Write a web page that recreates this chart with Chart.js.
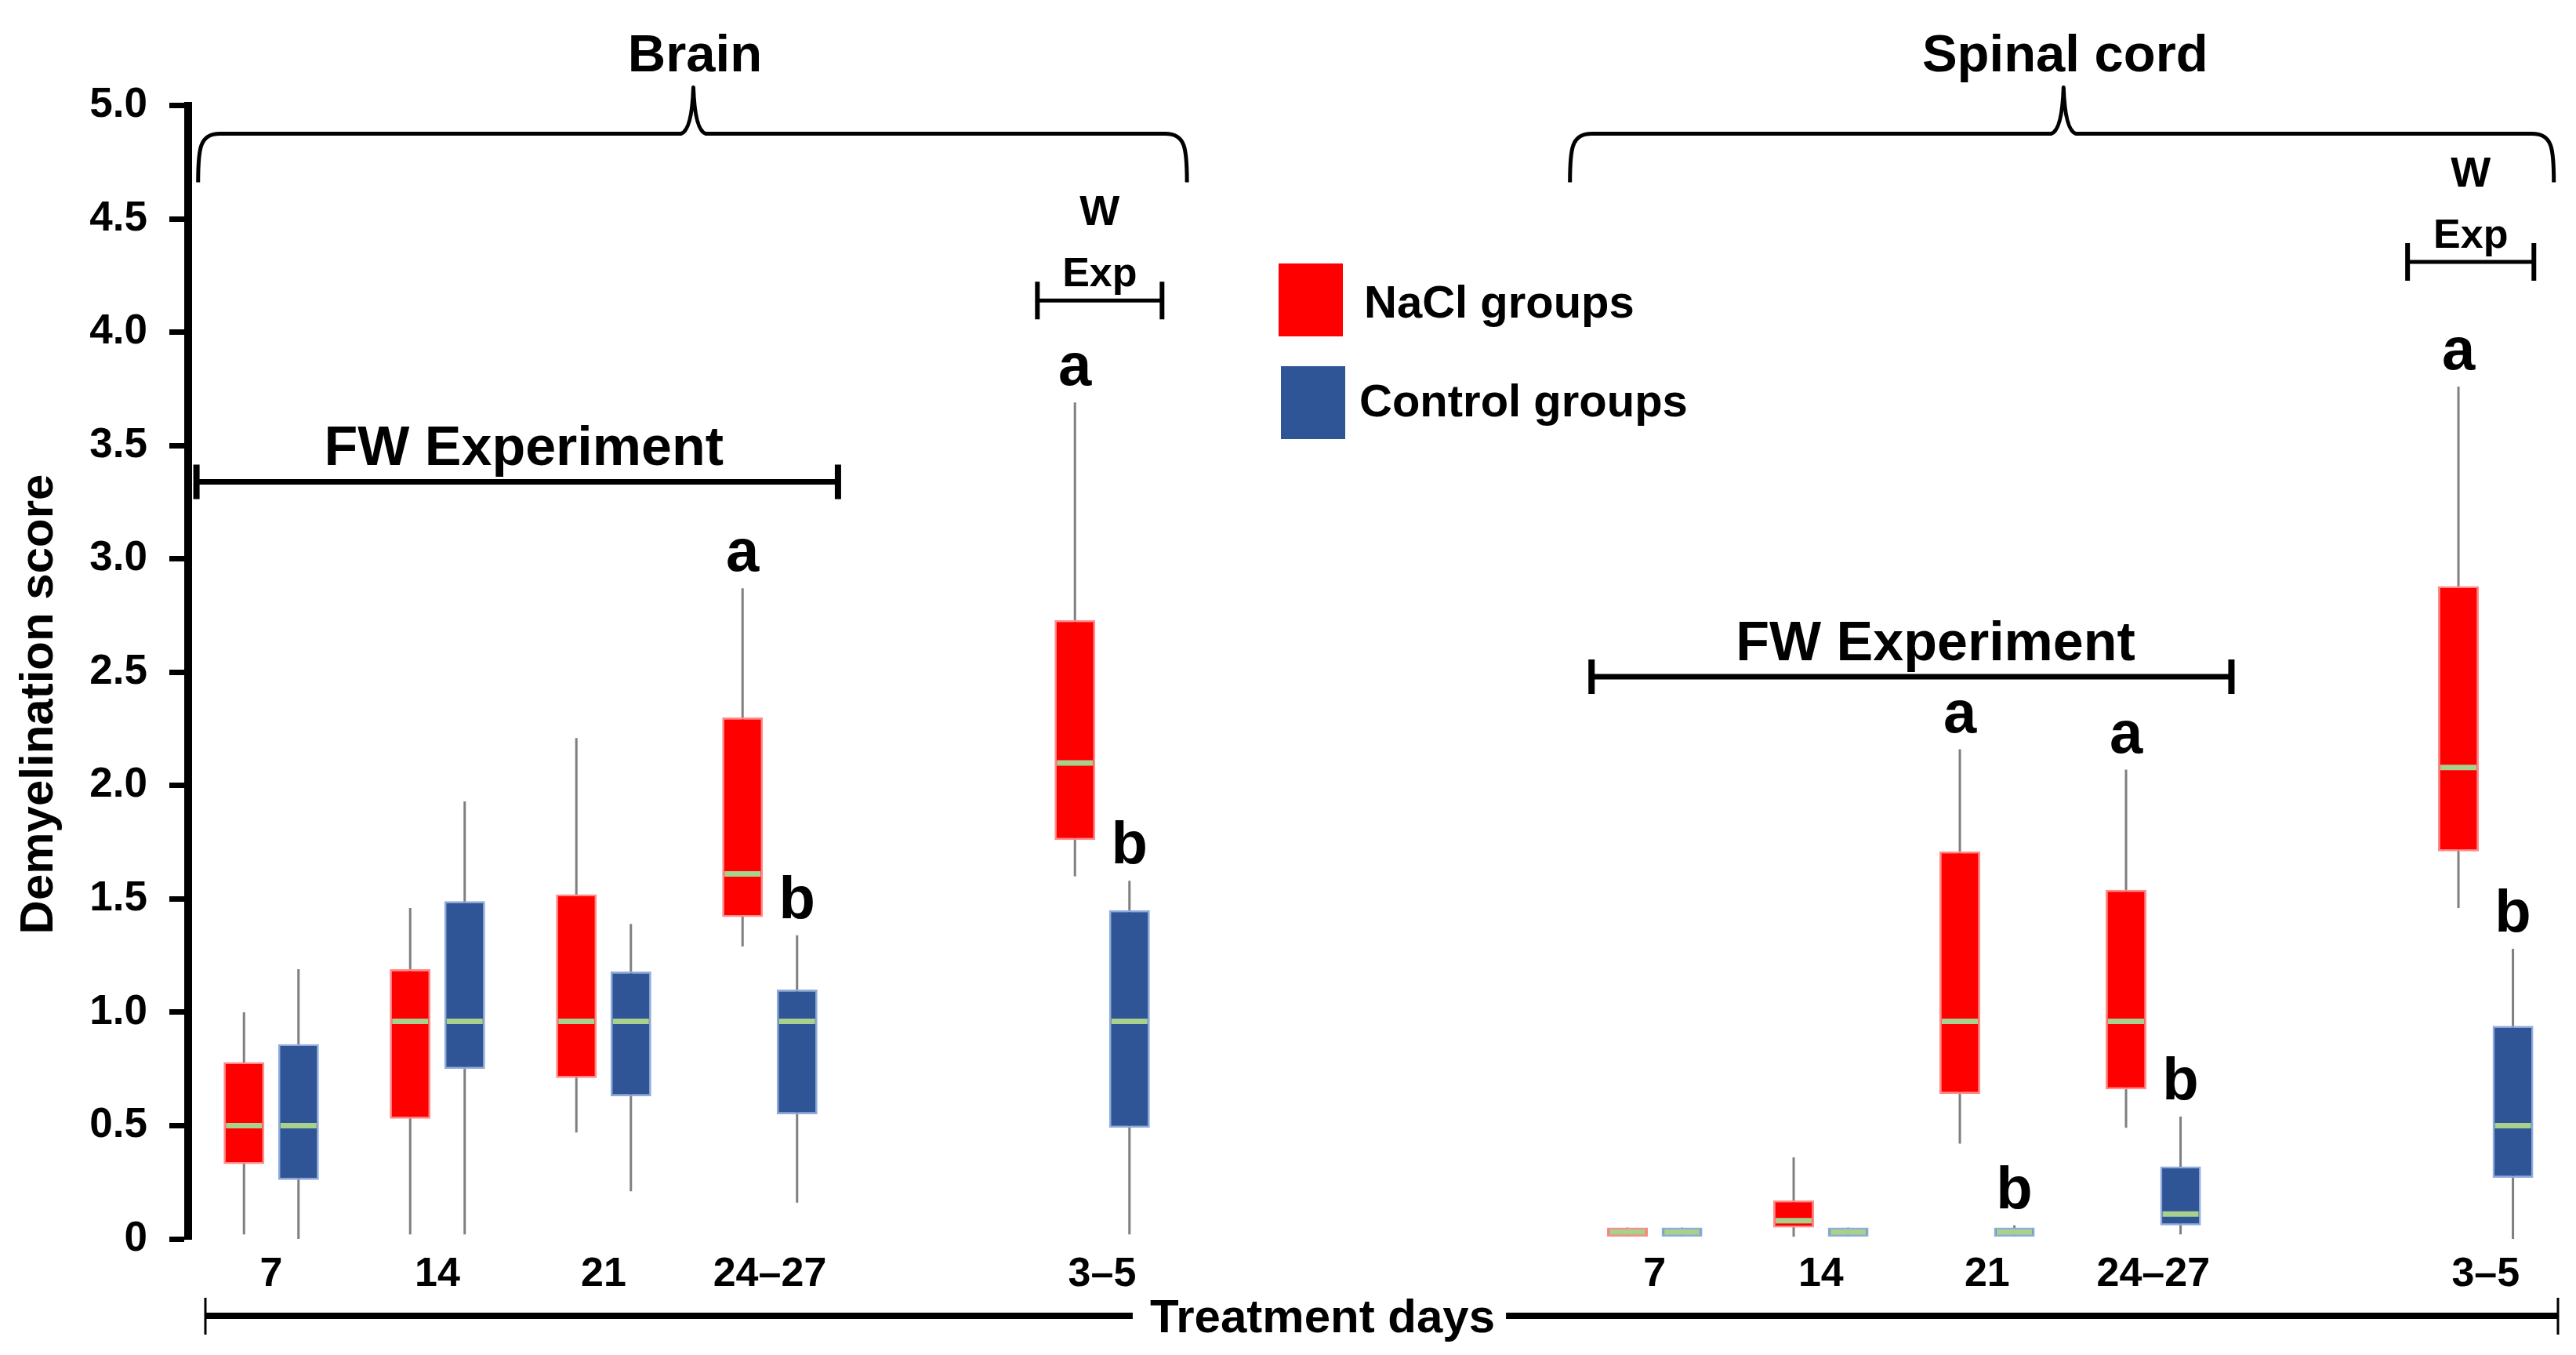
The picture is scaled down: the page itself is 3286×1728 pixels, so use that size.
<!DOCTYPE html>
<html>
<head>
<meta charset="utf-8">
<script src="https://cdn.jsdelivr.net/npm/chart.js@4.4.1/dist/chart.umd.min.js"></script>
<style>
  html, body { margin: 0; padding: 0; background: #ffffff; }
  #wrap { position: relative; width: 3286px; height: 1728px; }
  #wrap canvas { position: absolute; left: 0; top: 0; }
</style>
</head>
<body>
<div id="wrap">
  <canvas id="brainChart" width="3286" height="1728"></canvas>
  <canvas id="spinalChart" width="3286" height="1728"></canvas>
</div>
<script>
// ---------------- DATA ----------------
const dayLabels = ['7', '14', '21', '24–27', '', '3–5'];   // '' = spacer slot
const seriesNames = ['NaCl groups', 'Control groups'];
const yTickLabels = ['0', '0.5', '1.0', '1.5', '2.0', '2.5', '3.0', '3.5', '4.0', '4.5', '5.0'];
const yAxisTitle = 'Demyelination score';
const xAxisTitle = 'Treatment days';
const panelTitles = ['Brain', 'Spinal cord'];
const fwLabel = 'FW Experiment';
const wLabel = ['W', 'Exp'];

// Brain – NaCl groups (box plot statistics)
const brainNaClMin    = [0.02, 0.02, 0.47, 1.29, null, 1.60];
const brainNaClQ1     = [0.33, 0.53, 0.71, 1.42, null, 1.76];
const brainNaClMedian = [0.50, 0.96, 0.96, 1.61, null, 2.10];
const brainNaClQ3     = [0.78, 1.19, 1.52, 2.30, null, 2.73];
const brainNaClMax    = [1.00, 1.46, 2.21, 2.87, null, 3.69];
const brainNaClSig    = ['', '', '', 'a', '', 'a'];

// Brain – Control groups
const brainCtrlMin    = [0.00, 0.02, 0.21, 0.16, null, 0.02];
const brainCtrlQ1     = [0.26, 0.75, 0.63, 0.55, null, 0.49];
const brainCtrlMedian = [0.50, 0.96, 0.96, 0.96, null, 0.96];
const brainCtrlQ3     = [0.86, 1.49, 1.18, 1.10, null, 1.45];
const brainCtrlMax    = [1.19, 1.93, 1.39, 1.34, null, 1.58];
const brainCtrlSig    = ['', '', '', 'b', '', 'b'];

// Spinal cord – NaCl groups
const spinalNaClMin    = [0.01, 0.01, 0.42, 0.49, null, 1.46];
const spinalNaClQ1     = [0.01, 0.05, 0.64, 0.66, null, 1.71];
const spinalNaClMedian = [0.03, 0.08, 0.96, 0.96, null, 2.08];
const spinalNaClQ3     = [0.05, 0.17, 1.71, 1.54, null, 2.88];
const spinalNaClMax    = [0.05, 0.36, 2.16, 2.07, null, 3.76];
const spinalNaClSig    = ['', '', 'a', 'a', '', 'a'];

// Spinal cord – Control groups
const spinalCtrlMin    = [0.01, 0.01, 0.01, 0.02, null, 0.00];
const spinalCtrlQ1     = [0.01, 0.01, 0.01, 0.06, null, 0.27];
const spinalCtrlMedian = [0.03, 0.03, 0.03, 0.11, null, 0.50];
const spinalCtrlQ3     = [0.05, 0.05, 0.05, 0.32, null, 0.94];
const spinalCtrlMax    = [0.05, 0.05, 0.06, 0.54, null, 1.28];
const spinalCtrlSig    = ['', '', 'b', 'b', '', 'b'];

// ---------------- STYLE ----------------
const FONT = '"Liberation Sans", Arial, Helvetica, sans-serif';
const RED = '#ff0000', RED_EDGE = '#ff8a8a';
const BLUE = '#2f5597', BLUE_EDGE = '#8faadc';
const MEDIAN = '#a9d18e';
const WHISKER = '#7f7f7f';
Chart.defaults.font.family = FONT;
Chart.defaults.color = '#000';

function series(label, color, edge, q1, q3, min, med, max, sig) {
  return {
    label: label,
    data: q1.map((q, i) => (q == null ? null : [q, q3[i]])),
    backgroundColor: color,
    borderColor: edge,
    borderWidth: 2.5,
    borderSkipped: false,
    categoryPercentage: 0.656,
    barPercentage: 0.748,
    stats: { min: min, med: med, max: max, sig: sig }
  };
}

const boxPlugin = {
  id: 'boxStats',
  beforeDatasetsDraw(chart) {
    const ctx = chart.ctx, y = chart.scales.y;
    chart.data.datasets.forEach((ds, di) => {
      const meta = chart.getDatasetMeta(di);
      meta.data.forEach((el, i) => {
        if (ds.stats.min[i] == null) return;
        ctx.save();
        ctx.strokeStyle = WHISKER;
        ctx.lineWidth = 3;
        ctx.beginPath();
        ctx.moveTo(el.x, y.getPixelForValue(ds.stats.min[i]));
        ctx.lineTo(el.x, y.getPixelForValue(ds.stats.max[i]));
        ctx.stroke();
        ctx.restore();
      });
    });
  },
  afterDatasetsDraw(chart) {
    const ctx = chart.ctx, y = chart.scales.y;
    chart.data.datasets.forEach((ds, di) => {
      const meta = chart.getDatasetMeta(di);
      meta.data.forEach((el, i) => {
        if (ds.stats.med[i] == null) return;
        const w = el.width;
        const ym = y.getPixelForValue(ds.stats.med[i]);
        ctx.save();
        ctx.strokeStyle = MEDIAN;
        ctx.lineWidth = 7;
        ctx.beginPath();
        ctx.moveTo(el.x - w / 2 + 3, ym);
        ctx.lineTo(el.x + w / 2 - 3, ym);
        ctx.stroke();
        const s = ds.stats.sig[i];
        if (s) {
          ctx.fillStyle = '#000';
          ctx.font = 'bold 76px ' + FONT;
          ctx.textAlign = 'center';
          ctx.textBaseline = 'alphabetic';
          ctx.fillText(s, el.x, y.getPixelForValue(ds.stats.max[i]) - 22);
        }
        ctx.restore();
      });
    });
  }
};

function drawBrace(ctx, xl, xr, xm, top) {
  const yh = top + 36, ye = top + 98, yp = top - 23;
  ctx.save();
  ctx.strokeStyle = '#000';
  ctx.lineWidth = 5;
  ctx.lineJoin = 'round';
  ctx.beginPath();
  ctx.moveTo(xl, ye);
  ctx.bezierCurveTo(xl, yh + 18, xl + 2, yh, xl + 28, yh);
  ctx.lineTo(xm - 16, yh);
  ctx.quadraticCurveTo(xm - 2, yh - 4, xm, yp);
  ctx.quadraticCurveTo(xm + 2, yh - 4, xm + 16, yh);
  ctx.lineTo(xr - 28, yh);
  ctx.bezierCurveTo(xr - 2, yh, xr, yh + 18, xr, ye);
  ctx.stroke();
  ctx.restore();
}

function drawBracket(ctx, xl, xr, yv, lw, th, tw) {
  ctx.save();
  ctx.strokeStyle = '#000';
  ctx.lineWidth = lw;
  ctx.beginPath();
  ctx.moveTo(xl, yv);
  ctx.lineTo(xr, yv);
  ctx.stroke();
  ctx.lineWidth = tw;
  ctx.beginPath();
  ctx.moveTo(xl, yv - th); ctx.lineTo(xl, yv + th);
  ctx.moveTo(xr, yv - th); ctx.lineTo(xr, yv + th);
  ctx.stroke();
  ctx.restore();
}

function text(ctx, str, x, y, size, align, baseline) {
  ctx.save();
  ctx.fillStyle = '#000';
  ctx.font = 'bold ' + size + 'px ' + FONT;
  ctx.textAlign = align || 'center';
  ctx.textBaseline = baseline || 'alphabetic';
  ctx.fillText(str, x, y);
  ctx.restore();
}

const annotPlugin = {
  id: 'annot',
  afterDraw(chart, args, o) {
    const ctx = chart.ctx;
    const x = chart.scales.x, y = chart.scales.y;
    const w = x.width / chart.data.labels.length;
    const px = u => x.left + (u + 0.5) * w;
    const top = chart.chartArea.top;

    // Brace and panel title
    drawBrace(ctx, px(o.braceL), px(o.braceR), px(o.braceM), top);
    text(ctx, o.title, px(o.braceM) + 2, top - 44, 67);

    // FW Experiment bracket
    const fy = y.getPixelForValue(o.fwV);
    drawBracket(ctx, px(o.fwL), px(o.fwR), fy, 7, 22, 8);
    text(ctx, fwLabel, px(o.fwT), fy - 21, 70);

    // W Exp bracket
    const wy = y.getPixelForValue(o.wV);
    drawBracket(ctx, px(o.wL), px(o.wR), wy, 5, 24, 6);
    const wc = px((o.wL + o.wR) / 2);
    text(ctx, wLabel[0], wc, wy - 96, 54);
    text(ctx, wLabel[1], wc, wy - 18, 52);

    if (o.yTitle) {
      ctx.save();
      ctx.translate(50, 898);
      ctx.rotate(-Math.PI / 2);
      text(ctx, yAxisTitle, 0, 0, 60, 'center', 'middle');
      ctx.restore();
    }

    if (o.overlay) {
      // Legend
      ctx.save();
      ctx.fillStyle = RED;
      ctx.fillRect(1631, 336, 82, 93);
      ctx.fillStyle = BLUE;
      ctx.fillRect(1634, 467, 82, 93);
      ctx.restore();
      text(ctx, seriesNames[0], 1740, 405, 58, 'left');
      text(ctx, seriesNames[1], 1734, 531, 58, 'left');

      // Treatment days line
      const ly = 1678, lx0 = 262, lx1 = 3263, cx = 1687;
      ctx.save();
      ctx.font = 'bold 60px ' + FONT;
      const tw = ctx.measureText(xAxisTitle).width;
      ctx.restore();
      text(ctx, xAxisTitle, cx, ly + 21, 60);
      ctx.save();
      ctx.strokeStyle = '#000';
      ctx.lineWidth = 8;
      ctx.beginPath();
      ctx.moveTo(lx0, ly); ctx.lineTo(cx - tw / 2 - 22, ly);
      ctx.moveTo(cx + tw / 2 + 14, ly); ctx.lineTo(lx1, ly);
      ctx.stroke();
      ctx.lineWidth = 3;
      ctx.beginPath();
      ctx.moveTo(lx0, ly - 23); ctx.lineTo(lx0, ly + 24);
      ctx.moveTo(lx1, ly - 23); ctx.lineTo(lx1, ly + 24);
      ctx.stroke();
      ctx.restore();
    }
  }
};

function xScale() {
  return {
    afterFit: s => { s.height = 148; },
    grid: { display: false },
    border: { display: false },
    ticks: { font: { size: 52, weight: 'bold' }, color: '#000', padding: 6, autoSkip: false, maxRotation: 0 }
  };
}

function makeChart(id, datasets, yAxisShown, padding, annot) {
  return new Chart(document.getElementById(id), {
    type: 'bar',
    data: { labels: dayLabels, datasets: datasets },
    options: {
      responsive: false,
      animation: false,
      devicePixelRatio: 1,
      layout: { padding: padding },
      plugins: { legend: { display: false }, tooltip: { enabled: false }, annot: annot },
      scales: {
        x: xScale(),
        y: {
          display: yAxisShown,
          min: 0, max: 5,
          afterFit: s => { s.width = yAxisShown ? 240 : 0; },
          ticks: {
            stepSize: 0.5, font: { size: 53, weight: 'bold' }, color: '#000', padding: 28,
            autoSkip: false,
            callback: (v, i) => yTickLabels[i]
          },
          grid: { drawOnChartArea: false, drawTicks: true, tickLength: 24, tickWidth: 7, tickColor: '#000' },
          border: { display: true, color: '#000', width: 10 }
        }
      }
    },
    plugins: [boxPlugin, annotPlugin]
  });
}

makeChart('brainChart', [
  series(seriesNames[0], RED, RED_EDGE, brainNaClQ1, brainNaClQ3, brainNaClMin, brainNaClMedian, brainNaClMax, brainNaClSig),
  series(seriesNames[1], BLUE, BLUE_EDGE, brainCtrlQ1, brainCtrlQ3, brainCtrlMin, brainCtrlMedian, brainCtrlMax, brainCtrlSig)
], true, { left: 0, top: 134.6, right: 1774, bottom: 0 }, {
  title: panelTitles[0], braceL: -0.44, braceR: 5.51, braceM: 2.54,
  fwL: -0.45, fwR: 3.41, fwV: 3.34, fwT: 1.52,
  wL: 4.61, wR: 5.36, wV: 4.14, yTitle: true, overlay: false
});

makeChart('spinalChart', [
  series(seriesNames[0], RED, RED_EDGE, spinalNaClQ1, spinalNaClQ3, spinalNaClMin, spinalNaClMedian, spinalNaClMax, spinalNaClSig),
  series(seriesNames[1], BLUE, BLUE_EDGE, spinalCtrlQ1, spinalCtrlQ3, spinalCtrlMin, spinalCtrlMedian, spinalCtrlMax, spinalCtrlSig)
], false, { left: 2004.8, top: 134.6, right: 9.2, bottom: 0 }, {
  title: panelTitles[1], braceL: -0.51, braceR: 5.41, braceM: 2.46,
  fwL: -0.38, fwR: 3.47, fwV: 2.48, fwT: 1.69,
  wL: 4.53, wR: 5.29, wV: 4.31, yTitle: false, overlay: true
});
</script>
</body>
</html>
